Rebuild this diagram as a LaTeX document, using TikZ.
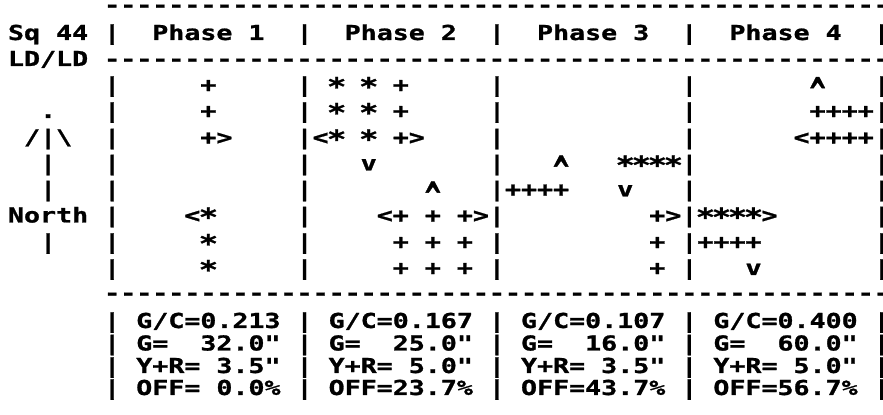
\documentclass[tikz,border=0pt]{standalone}
\usepackage{fontspec}
\newfontfamily\asciifont{DejaVu Sans Mono}[BoldFeatures={FakeBold=1}]
\newcommand\rowtext[1]{\scalebox{1.294}[1]{#1}}
\newcommand\caret{\smash{\raisebox{-0.7em}{\scalebox{1}[1.95]{\textasciicircum}}}}
\newcommand\aster{\makebox[0.602em]{\smash{\raisebox{-0.16em}{\scalebox{1.2}{*}}}}}

\begin{document}
\begin{tikzpicture}[x=0.5pt, y=-0.5pt, line/.style={anchor=base west, inner sep=0pt, outer sep=0pt, font=\asciifont\bfseries\fontsize{10.29}{12}\selectfont}]
	% Frame and rows of the timing plan:
	\useasboundingbox (0, 0) rectangle (883, 415);
	\node[line] (rulea) at (8, 12) {\rowtext{~~~~~~-------------------------------------------------}};
	\node[line] (heads) at (8, 40) {\rowtext{Sq~44~|~~Phase~1~~|~~Phase~2~~|~~Phase~3~~|~~Phase~4~~|}};
	\node[line] (ruleb) at (8, 66) {\rowtext{LD/LD~-------------------------------------------------}};
	\node[line] (move3) at (8, 92) {\rowtext{~~~~~~|~~~~~+~~~~~|~\aster~\aster~+~~~~~|~~~~~~~~~~~|~~~~~~~\caret~~~|}};
	\node[line] (move4) at (8, 118) {\rowtext{~~.~~~|~~~~~+~~~~~|~\aster~\aster~+~~~~~|~~~~~~~~~~~|~~~~~~~++++|}};
	\node[line] (move5) at (8, 144.5) {\rowtext{~/|\textbackslash~~|~~~~~+>~~~~|<\aster~\aster~+>~~~~|~~~~~~~~~~~|~~~~~~<++++|}};
	\node[line] (move6) at (8, 170.5) {\rowtext{~~|~~~|~~~~~~~~~~~|~~~v~~~~~~~|~~~\caret~~~\aster\aster\aster\aster|~~~~~~~~~~~|}};
	\node[line] (move7) at (8, 196.5) {\rowtext{~~|~~~|~~~~~~~~~~~|~~~~~~~\caret~~~|++++~~~v~~~|~~~~~~~~~~~|}};
	\node[line] (move8) at (8, 222.5) {\rowtext{North~|~~~~<\aster~~~~~|~~~~<+~+~+>|~~~~~~~~~+>|\aster\aster\aster\aster>~~~~~~|}};
	\node[line] (move9) at (8, 249) {\rowtext{~~|~~~|~~~~~\aster~~~~~|~~~~~+~+~+~|~~~~~~~~~+~|++++~~~~~~~|}};
	\node[line] (move10) at (8, 275) {\rowtext{~~~~~~|~~~~~\aster~~~~~|~~~~~+~+~+~|~~~~~~~~~+~|~~~v~~~~~~~|}};
	\node[line] (rulec) at (8, 300) {\rowtext{~~~~~~-------------------------------------------------}};
	\node[line] (ratio) at (8, 328) {\rowtext{~~~~~~|~G/C=0.213~|~G/C=0.167~|~G/C=0.107~|~G/C=0.400~|}};
	\node[line] (green) at (8, 350.5) {\rowtext{~~~~~~|~G=~~32.0"~|~G=~~25.0"~|~G=~~16.0"~|~G=~~60.0"~|}};
	\node[line] (clear) at (8, 373) {\rowtext{~~~~~~|~Y+R=~3.5"~|~Y+R=~5.0"~|~Y+R=~3.5"~|~Y+R=~5.0"~|}};
	\node[line] (offset) at (8, 395) {\rowtext{~~~~~~|~OFF=~0.0\%~|~OFF=23.7\%~|~OFF=43.7\%~|~OFF=56.7\%~|}};
\end{tikzpicture}
\end{document}
